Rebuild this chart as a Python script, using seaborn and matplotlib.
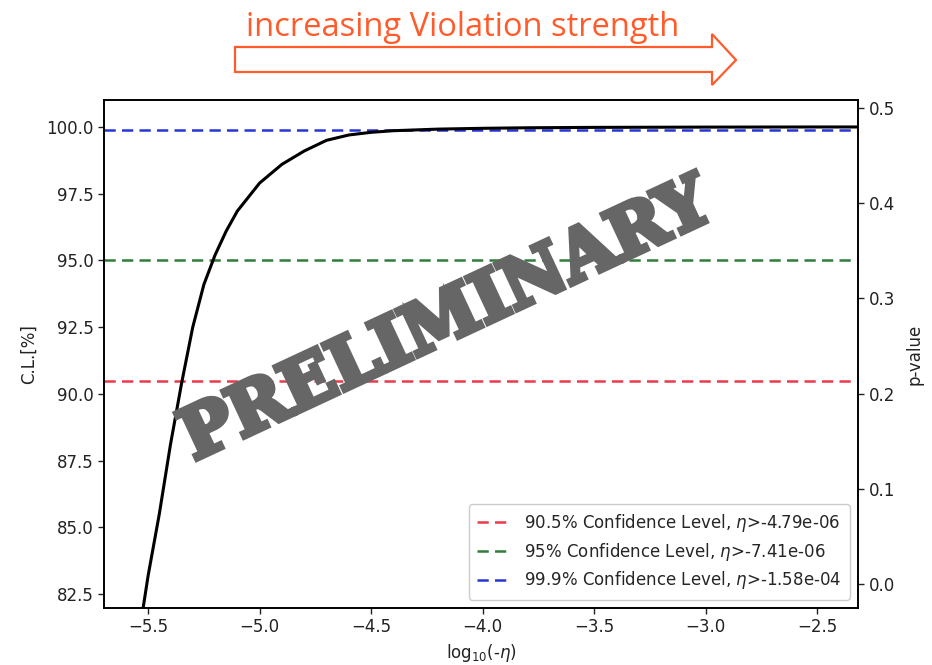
import numpy as np
import pandas as pd
import matplotlib
matplotlib.use("Agg")
import matplotlib.pyplot as plt
import matplotlib.patheffects as pe
from matplotlib.patches import Polygon
import seaborn as sns

# Confidence level as a function of log10(-eta)
log_eta = [-5.55, -5.50, -5.45, -5.40, -5.35, -5.30, -5.25, -5.20, -5.15, -5.10,
           -5.00, -4.90, -4.80, -4.70, -4.60, -4.50, -4.40, -4.20, -4.00, -3.80,
           -3.50, -3.00, -2.50, -2.20]
cl_percent = [80.5, 83.2, 85.5, 88.1, 90.4, 92.5, 94.1, 95.2, 96.1, 96.85,
              97.9, 98.6, 99.1, 99.5, 99.7, 99.8, 99.86, 99.92, 99.95, 99.97,
              99.985, 99.995, 100.0, 100.0]

# Reference confidence levels and the corresponding eta limits
levels = [90.5, 95.0, 99.9]
level_names = ["90.5%", "95%", "99.9%"]
eta_limits = ["-4.79e-06", "-7.41e-06", "-1.58e-04"]
level_colors = ["#ec3a4c", "#2f7d3a", "#2636d6"]

df = pd.DataFrame({"log_eta": log_eta, "cl": cl_percent})

sns.set_theme(style="ticks")
plt.rcParams["font.family"] = ["DejaVu Sans"]

fig = plt.figure(figsize=(9.32, 6.65), dpi=100)
ax = fig.add_axes([0.1116, 0.0857, 0.809, 0.7639])

for lvl, name, lim, col in zip(levels, level_names, eta_limits, level_colors):
    ax.axhline(lvl, color=col, ls="--", lw=1.8, dashes=(4.5, 2.5),
               label=f"{name} Confidence Level, $\\eta$>{lim}")

sns.lineplot(data=df, x="log_eta", y="cl", ax=ax, color="black", lw=2.2,
             legend=False)

yt = [82.5, 85.0, 87.5, 90.0, 92.5, 95.0, 97.5, 100.0]
ax.set_xlim(-5.698, -2.316)
ax.set_ylim(81.98, 101.01)
ax.set_xticks([-5.5, -5.0, -4.5, -4.0, -3.5, -3.0, -2.5])
ax.set_yticks(yt)
ax.set_yticklabels([f"{v:.1f}" for v in yt])
ax.set_xticklabels(["\u22125.5", "\u22125.0", "\u22124.5", "\u22124.0",
                    "\u22123.5", "\u22123.0", "\u22122.5"])
ax.set_xlabel(r"log$_{10}$(-$\eta$)", fontsize=12, color="#222222", labelpad=4)
ax.set_ylabel("C.L.[%]", fontsize=12, color="#222222", labelpad=6)
ax.tick_params(labelsize=12, colors="#222222", length=4, width=1)
for s in ax.spines.values():
    s.set_color("black")
    s.set_linewidth(1.2)

leg = ax.legend(loc="lower right", fontsize=12, frameon=True, framealpha=1,
                edgecolor="#cccccc", handlelength=2.0, borderpad=0.5,
                labelspacing=0.4)

ax2 = ax.twinx()
ax2.set_ylim(-0.0252, 0.5084)
ax2.set_yticks([0.0, 0.1, 0.2, 0.3, 0.4, 0.5])
ax2.set_ylabel("p-value", fontsize=12, color="#222222", labelpad=8)
ax2.tick_params(labelsize=12, colors="#222222", length=4, width=1)
for s in ax2.spines.values():
    s.set_color("black")
    s.set_linewidth(1.2)

# Watermark
ax.text(0.455, 0.565, "PRELIMINARY", transform=ax.transAxes, rotation=25,
        ha="center", va="center", fontsize=50, fontweight="heavy",
        family="DejaVu Serif", color="#666666", zorder=10,
        path_effects=[pe.withStroke(linewidth=4, foreground="#666666",
                                    joinstyle="miter")])

# Direction annotation above the plot
orange = "#ff5b2b"
fig.text(0.264, 0.958, "increasing Violation strength", fontsize=23.5,
         family="Open Sans", fontweight="normal", color=orange,
         ha="left", va="center")
W, H = 932.0, 665.0
arrow_px = [(235, 47), (712, 47), (712, 34), (736, 60), (712, 85), (712, 72), (235, 72)]
arrow_fig = [(x / W, 1 - y / H) for x, y in arrow_px]
fig.patches.append(Polygon(arrow_fig, closed=True, transform=fig.transFigure,
                           facecolor="white", edgecolor=orange, lw=1.6))

fig.savefig("out.png", dpi=100)
